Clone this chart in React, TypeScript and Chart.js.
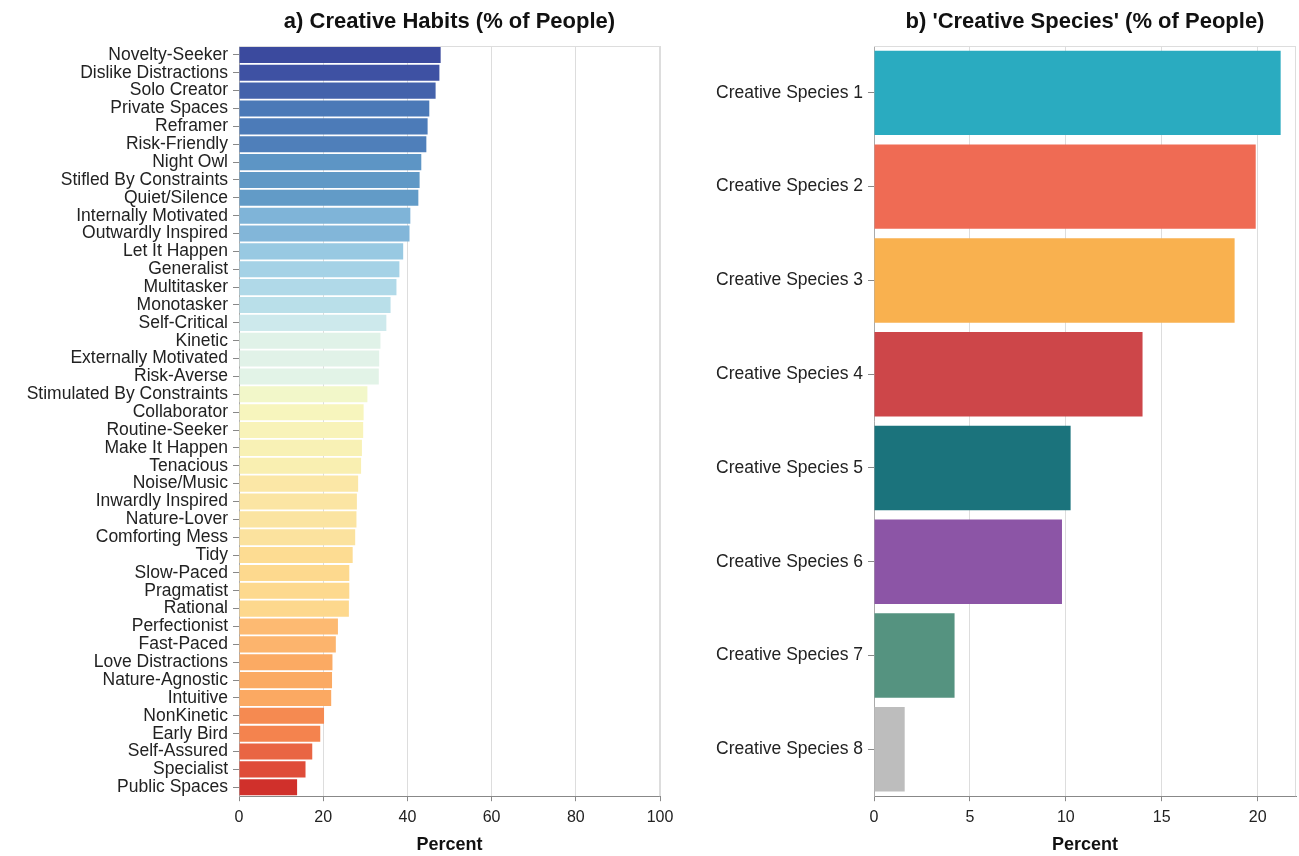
import React, { useEffect, useRef } from "react";
import { Chart, registerables } from "chart.js";

Chart.register(...registerables);

const habitLabels = [
  "Novelty-Seeker", "Dislike Distractions", "Solo Creator", "Private Spaces", "Reframer",
  "Risk-Friendly", "Night Owl", "Stifled By Constraints", "Quiet/Silence", "Internally Motivated",
  "Outwardly Inspired", "Let It Happen", "Generalist", "Multitasker", "Monotasker",
  "Self-Critical", "Kinetic", "Externally Motivated", "Risk-Averse", "Stimulated By Constraints",
  "Collaborator", "Routine-Seeker", "Make It Happen", "Tenacious", "Noise/Music",
  "Inwardly Inspired", "Nature-Lover", "Comforting Mess", "Tidy", "Slow-Paced",
  "Pragmatist", "Rational", "Perfectionist", "Fast-Paced", "Love Distractions",
  "Nature-Agnostic", "Intuitive", "NonKinetic", "Early Bird", "Self-Assured",
  "Specialist", "Public Spaces",
];

const habitValues = [
  47.9, 47.6, 46.7, 45.2, 44.8,
  44.5, 43.3, 42.9, 42.6, 40.7,
  40.5, 39.0, 38.1, 37.4, 36.0,
  35.0, 33.6, 33.3, 33.2, 30.5,
  29.6, 29.5, 29.2, 29.0, 28.3,
  28.0, 27.9, 27.6, 27.0, 26.2,
  26.2, 26.1, 23.5, 23.0, 22.2,
  22.1, 21.9, 20.2, 19.3, 17.4,
  15.8, 13.8,
];

const habitColors = [
  "#3b4a9e", "#3e51a3", "#4462ab", "#4b79b7", "#4c7bb8",
  "#4f7fba", "#5d95c5", "#6099c6", "#629bc7", "#7fb4d8",
  "#82b6d9", "#98c9e2", "#a5d2e6", "#b0d9e8", "#b9dfe9",
  "#cde9ec", "#e0f2e8", "#e1f2e8", "#e2f3e7", "#f2f7c9",
  "#f7f5bd", "#f8f3b9", "#f8f1b5", "#f9efb1", "#fbe7a6",
  "#fbe5a3", "#fbe4a1", "#fbe29e", "#fddc92", "#fdd98e",
  "#fdd98e", "#fdd88d", "#fdba72", "#fcb46d", "#fbaa63",
  "#fbaa63", "#fba962", "#f58a51", "#f4834e", "#e96543",
  "#df4c39", "#d0302b",
];

const speciesLabels = [
  "Creative Species 1", "Creative Species 2", "Creative Species 3", "Creative Species 4",
  "Creative Species 5", "Creative Species 6", "Creative Species 7", "Creative Species 8",
];

const speciesValues = [21.2, 19.9, 18.8, 14.0, 10.25, 9.8, 4.2, 1.6];

const speciesColors = [
  "#2aabc0", "#ef6b54", "#f9b14f", "#cd4649", "#1b737c", "#8c55a6", "#559380", "#bdbdbd",
];

const FONT = "'Liberation Sans', Arial, Helvetica, sans-serif";

const frameBorder = {
  id: "frameBorder",
  beforeDatasetsDraw(chart: any) {
    const { ctx, chartArea } = chart;
    ctx.save();
    ctx.strokeStyle = "#dddddd";
    ctx.lineWidth = 1;
    ctx.beginPath();
    ctx.moveTo(chartArea.left, chartArea.top + 0.5);
    ctx.lineTo(chartArea.right, chartArea.top + 0.5);
    ctx.moveTo(chartArea.right - 0.5, chartArea.top);
    ctx.lineTo(chartArea.right - 0.5, chartArea.bottom);
    ctx.stroke();
    ctx.restore();
  },
};

function makeConfig(
  labels: string[],
  values: number[],
  colors: string[],
  title: string,
  xMax: number,
  step: number,
  yWidth: number,
  padRight: number
): any {
  return {
    type: "bar",
    data: {
      labels,
      datasets: [
        {
          data: values,
          backgroundColor: colors,
          borderWidth: 0,
          categoryPercentage: 1,
          barPercentage: 0.9,
        },
      ],
    },
    plugins: [frameBorder],
    options: {
      indexAxis: "y",
      animation: false,
      responsive: false,
      events: [],
      layout: { padding: { left: 0, right: padRight, top: 0, bottom: 0 } },
      plugins: {
        legend: { display: false },
        tooltip: { enabled: false },
        title: {
          display: true,
          text: title,
          fullSize: false,
          color: "#111",
          font: { family: FONT, size: 22, weight: "bold" },
          padding: { top: 9, bottom: 10.6 },
        },
      },
      scales: {
        x: {
          type: "linear",
          min: 0,
          max: xMax,
          grid: {
            color: "#dddddd",
            tickColor: "#888888",
            tickLength: 5,
          },
          border: { color: "#888888" },
          ticks: {
            stepSize: step,
            includeBounds: false,
            color: "#222",
            padding: 7,
            font: { family: FONT, size: 16 },
          },
          title: {
            display: true,
            text: "Percent",
            color: "#111",
            font: { family: FONT, size: 18, weight: "bold" },
            padding: { top: 0, bottom: 0 },
          },
        },
        y: {
          type: "category",
          grid: {
            drawOnChartArea: false,
            offset: false,
            tickColor: "#888888",
            tickLength: 6,
          },
          border: { color: "#aaaaaa" },
          ticks: {
            autoSkip: false,
            color: "#222",
            padding: 5,
            font: { family: FONT, size: 17.5 },
          },
          afterFit(scale: any) {
            scale.width = yWidth;
          },
        },
      },
    },
  };
}

function BarPanel(props: {
  left: number;
  width: number;
  config: any;
}) {
  const ref = useRef<HTMLCanvasElement | null>(null);
  useEffect(() => {
    if (!ref.current) return;
    const chart = new Chart(ref.current, props.config);
    return () => chart.destroy();
  }, []);
  return (
    <canvas
      ref={ref}
      width={props.width}
      height={856}
      style={{
        position: "absolute",
        left: props.left,
        top: 0,
        width: props.width,
        height: 856,
      }}
    />
  );
}

export default function App() {
  const habitsConfig = makeConfig(
    habitLabels,
    habitValues,
    habitColors,
    "a) Creative Habits (% of People)",
    100,
    20,
    239,
    40
  );
  const speciesConfig = makeConfig(
    speciesLabels,
    speciesValues,
    speciesColors,
    "b) 'Creative Species' (% of People)",
    22,
    5,
    194,
    3
  );
  return (
    <div
      style={{
        position: "absolute",
        left: 0,
        top: 0,
        width: 1299,
        height: 856,
        background: "#ffffff",
        overflow: "hidden",
      }}
    >
      <BarPanel left={0} width={700} config={habitsConfig} />
      <BarPanel left={680} width={619} config={speciesConfig} />
    </div>
  );
}
